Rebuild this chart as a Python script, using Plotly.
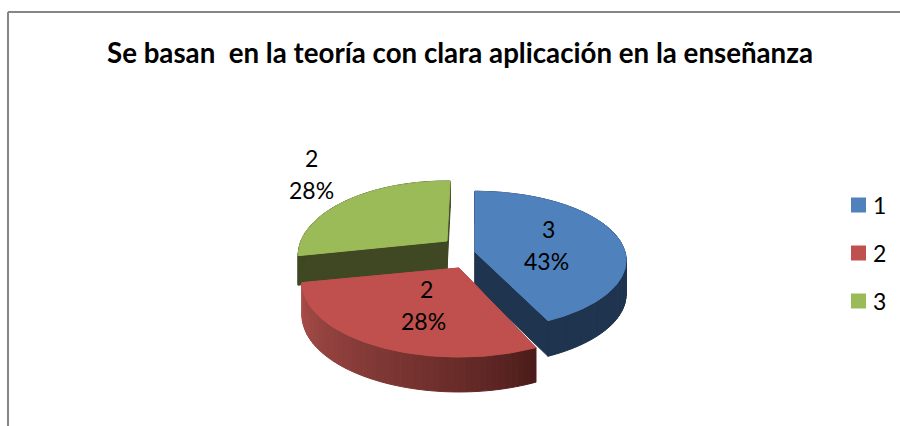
"""3D-look exploded pie chart, drawn with filled Plotly scatter traces."""
import math
import plotly.graph_objects as go

TITLE = 'Se basan \u00a0en la teoría con clara aplicación en la enseñanza'

categories = ['1', '2', '3']
values = [3, 2, 2]
percent_labels = ['43%', '28%', '28%']

top_colors = ['#4f81bd', '#c0504d', '#9bbb59']
wall_colors = ['#1f344f', '#a84c49', '#3f4822']
RED_WALL_DARK = (74, 28, 26)
RED_WALL_LIGHT = (170, 78, 74)

FONT = 'Lato, Carlito, sans-serif'

# slice projection (pixels, y axis reversed): tip after explosion, twist,
# horizontal radius, vertical radius, perspective strength, wall height
apexes = [(475, 252), (459, 268), (447, 241)]
twists = [0, 1.5, 1.5]
radii = [150, 154, 146]
minors = [68, 71.7, 71.7]
perspectives = [0.12, 0.195, 0.195]
depths = [34, 32, 29]
# label anchors: value row, percent row
label_pos = [((548, 229), (546, 261)), ((426, 289), (423, 321)), ((311, 158), (311, 190))]
# legend
LEGEND_X = 858.5
LEGEND_TEXT_X = 871
legend_rows = [205, 253, 301]


def project(angle, i, radius=1.0, drop=0.0):
    """Angle in degrees clockwise from the top, onto the tilted pie."""
    u = radius * math.sin(math.radians(angle))
    v = radius * math.cos(math.radians(angle))
    s = 1 / (1 + perspectives[i] * v)
    return (apexes[i][0] + radii[i] * u * s,
            apexes[i][1] - minors[i] * v * s + drop * depths[i] * s ** 0.4)


def polygon(fig, points, color):
    fig.add_trace(go.Scatter(
        x=[p[0] for p in points] + [points[0][0]],
        y=[p[1] for p in points] + [points[0][1]],
        mode='lines',
        fill='toself',
        fillcolor=color,
        line=dict(color=color, width=1),
        hoverinfo='skip',
        showlegend=False
    ))


def arc(start, end, i):
    steps = max(int(abs(end - start)), 2)
    return [project(start + (end - start) * k / steps, i) for k in range(steps + 1)]


def draw_slice(fig, i, start, end):
    # radial walls
    for edge in (start, end):
        polygon(fig, [project(edge, i, 0.0), project(edge, i, 1.0),
                      project(edge, i, 1.0, 1.0), project(edge, i, 0.0, 1.0)], wall_colors[i])
    # outer wall, split in strips so the red one can carry its shading
    steps = max(int(abs(end - start) / 2), 2)
    for k in range(steps):
        a0 = start + (end - start) * k / steps
        a1 = start + (end - start) * (k + 1) / steps
        wall = wall_colors[i]
        if i == 1:
            t = (k / (steps - 1)) ** 0.8
            rgb = [round(d + (l - d) * t) for d, l in zip(RED_WALL_DARK, RED_WALL_LIGHT)]
            wall = f'rgb({rgb[0]},{rgb[1]},{rgb[2]})'
        polygon(fig, [project(a0, i), project(a1, i),
                      project(a1, i, 1.0, 1.0), project(a0, i, 1.0, 1.0)], wall)
    # top face
    polygon(fig, [project(0, i, 0.0)] + arc(start, end, i), top_colors[i])


fig = go.Figure()

total = sum(values)
edges = [0]
for val in values:
    edges.append(edges[-1] + 360 * val / total)

for i in (2, 0, 1):
    draw_slice(fig, i, edges[i] + twists[i], edges[i + 1] + twists[i])

# legend keys
fig.add_trace(go.Scatter(
    x=[LEGEND_X] * len(categories),
    y=legend_rows,
    mode='markers',
    marker=dict(symbol='square', size=15, color=top_colors),
    hoverinfo='skip',
    showlegend=False
))
for name, row in zip(categories, legend_rows):
    fig.add_annotation(x=LEGEND_TEXT_X, y=row, text=name, showarrow=False, xanchor='left',
                       font=dict(family=FONT, size=23, color='black'))

for i in range(len(categories)):
    rows = (str(values[i]), percent_labels[i])
    for text, (x, y) in zip(rows, label_pos[i]):
        fig.add_annotation(x=x, y=y, text=text, showarrow=False,
                           font=dict(family=FONT, size=23, color='black'))

fig.add_annotation(x=459.5, y=52, text=f'<b>{TITLE}</b>', showarrow=False,
                   font=dict(family=FONT, size=27.7, color='black'))

# chart frame
frame = dict(color='#868686', width=2)
fig.add_shape(type='line', x0=8, x1=8, y0=12, y1=426, line=frame)
fig.add_shape(type='line', x0=8, x1=900, y0=12, y1=12, line=frame)

fig.update_layout(
    width=900,
    height=426,
    margin=dict(t=0, b=0, l=0, r=0),
    plot_bgcolor='white',
    paper_bgcolor='white',
    xaxis=dict(range=[0, 900], visible=False, fixedrange=True),
    yaxis=dict(range=[426, 0], visible=False, fixedrange=True),
    font=dict(family=FONT, size=23, color='black'),
    showlegend=False
)

fig.write_html('out.html', config=dict(displayModeBar=False),
               post_script="document.body.style.margin='0';document.body.style.overflow='hidden';")
